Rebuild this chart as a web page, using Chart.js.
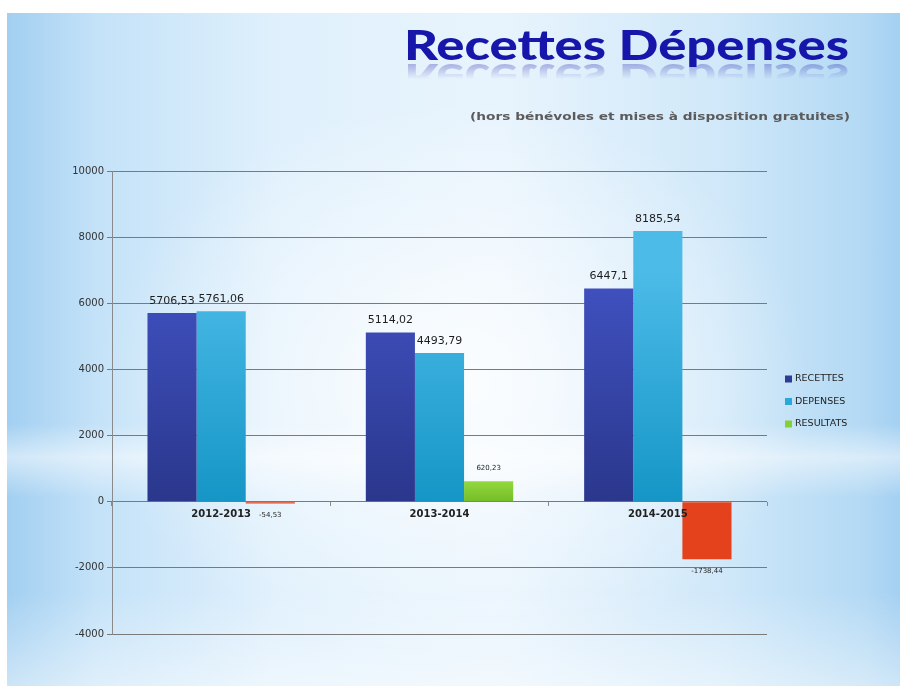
<!DOCTYPE html>
<html>
<head>
<meta charset="utf-8">
<script src="https://cdn.jsdelivr.net/npm/chart.js@4.4.0/dist/chart.umd.min.js"></script>
<style>
html,body{margin:0;padding:0;background:#fff;}
#wrap{position:relative;width:906px;height:686px;overflow:hidden;background:#fff;}
#bg{position:absolute;left:7px;top:13px;width:893px;height:673px;
  background:
    radial-gradient(ellipse 40% 42% at 50% 55%, rgba(255,255,255,0.85), rgba(255,255,255,0) 100%),
    linear-gradient(180deg, rgba(255,255,255,0) 61%, rgba(255,255,255,0.5) 66%, rgba(255,255,255,0) 72%),
    linear-gradient(180deg, rgba(255,255,255,0) 86%, rgba(255,255,255,0.45) 100%),
    linear-gradient(90deg, #a2cff1 0%, #c4e2f8 10%, #dff0fc 30%, #e8f4fd 55%, #d0e8f9 80%, #b3d9f4 96%, #a4d0f2 100%);}
#title{position:absolute;left:404px;top:20px;font-family:Lato,"Open Sans",sans-serif;font-weight:900;font-size:41px;line-height:50px;
  color:#1616aa;white-space:nowrap;transform-origin:0 0;
  -webkit-box-reflect: below -16px linear-gradient(transparent 50%, rgba(255,255,255,0.5));}
#sub{position:absolute;left:470px;top:109px;font-family:"DejaVu Sans",sans-serif;font-weight:bold;font-size:11px;line-height:16px;
  color:#5b5b5b;white-space:nowrap;transform-origin:0 0;}
canvas{position:absolute;left:0;top:0;}
</style>
</head>
<body>
<div id="wrap">
  <div id="bg"></div>
  <div id="title">Recettes Dépenses</div>
  <div id="sub">(hors bénévoles et mises à disposition gratuites)</div>
  <canvas id="c" width="906" height="686"></canvas>
</div>
<script>
// ---- data ----
const categories = ['2012-2013', '2013-2014', '2014-2015'];
const seriesNames = ['RECETTES', 'DEPENSES', 'RESULTATS'];
const recettes = [5706.53, 5114.02, 6447.1];
const depenses = [5761.06, 4493.79, 8185.54];
const resultats = [-54.53, 620.23, -1738.44];
const yTickMin = -4000;
const yTickMax = 10000;
const yTickStep = 2000;

// ---- fit title widths ----
function fit(id, w){
  const el = document.getElementById(id);
  const cur = el.getBoundingClientRect().width;
  el.style.transform = 'scaleX(' + (w / cur) + ')';
}
fit('title', 445);
fit('sub', 380);

Chart.defaults.font.family = '"DejaVu Sans", sans-serif';

function vGrad(top, bottom){
  return (ctx) => {
    const chart = ctx.chart;
    const a = chart.chartArea;
    if (!a) return top;
    const y0 = chart.scales.y.getPixelForValue(0);
    const g = chart.ctx.createLinearGradient(0, a.top + 100, 0, y0);
    g.addColorStop(0, top);
    g.addColorStop(1, bottom);
    return g;
  };
}
function resColor(ctx){
  const v = ctx.raw;
  const chart = ctx.chart;
  const a = chart.chartArea;
  if (!a) return v < 0 ? '#e2401c' : '#8cd235';
  if (v < 0) return '#e3421d';
  const y0 = chart.scales.y.getPixelForValue(0);
  const g = chart.ctx.createLinearGradient(0, y0 - 25, 0, y0);
  g.addColorStop(0, '#9ade45');
  g.addColorStop(1, '#74bd26');
  return g;
}

const legendColors = ['#2e3c96', '#2aa8da', '#86cf35'];

const valueLabels = {
  id: 'valueLabels',
  afterDatasetsDraw(chart){
    const ctx = chart.ctx;
    ctx.save();
    chart.data.datasets.forEach((ds, i) => {
      const meta = chart.getDatasetMeta(i);
      meta.data.forEach((bar, j) => {
        const v = ds.data[j];
        const txt = String(v).replace('.', ',');
        const small = i === 2;
        ctx.font = small ? '7px "DejaVu Sans"' : '11px "DejaVu Sans"';
        ctx.fillStyle = '#1e1e1e';
        ctx.textAlign = 'center';
        ctx.textBaseline = 'middle';
        const y = v >= 0 ? bar.y - (small ? 13 : 12) : bar.y + 12;
        ctx.fillText(txt, bar.x, y);
      });
    });
    ctx.restore();
  }
};

const sideLegend = {
  id: 'sideLegend',
  afterDraw(chart){
    const ctx = chart.ctx;
    ctx.save();
    chart.data.datasets.forEach((ds, i) => {
      const y = 379 + i * 22.5;
      ctx.fillStyle = legendColors[i];
      ctx.fillRect(785, y - 3.5, 7, 7);
      ctx.fillStyle = '#222';
      ctx.font = '9.5px "DejaVu Sans"';
      ctx.textAlign = 'left';
      ctx.textBaseline = 'middle';
      ctx.fillText(ds.label, 795, y);
    });
    ctx.restore();
  }
};

new Chart(document.getElementById('c'), {
  type: 'bar',
  data: {
    labels: categories,
    datasets: [
      { label: seriesNames[0], data: recettes, backgroundColor: vGrad('#4152c2', '#2a378c') },
      { label: seriesNames[1], data: depenses, backgroundColor: vGrad('#4cbbe8', '#1596c6') },
      { label: seriesNames[2], data: resultats, backgroundColor: resColor }
    ]
  },
  options: {
    responsive: false,
    devicePixelRatio: 1,
    animation: false,
    layout: { padding: { left: 52, top: 171, right: 139, bottom: 52 } },
    datasets: { bar: { categoryPercentage: 0.675, barPercentage: 1.0 } },
    plugins: { legend: { display: false }, tooltip: { enabled: false }, title: { display: false } },
    scales: {
      x: {
        position: { y: 0 },
        offset: true,
        grid: { display: true, offset: true, drawOnChartArea: false, drawTicks: true, tickLength: 4, color: '#8a8a8a' },
        border: { display: false },
        ticks: { z: 1, color: '#222', padding: 3, font: { size: 10, weight: 'bold' } }
      },
      y: {
        min: yTickMin,
        max: yTickMax,
        afterFit(s){ s.width = 60; },
        ticks: { stepSize: yTickStep, color: '#333', padding: 3, font: { size: 10 },
                 callback: (v) => String(v) },
        grid: { color: '#7a7a7a', lineWidth: 1, tickLength: 5, drawTicks: true },
        border: { display: true, color: '#8a8a8a' }
      }
    }
  },
  plugins: [valueLabels, sideLegend]
});
</script>
</body>
</html>
